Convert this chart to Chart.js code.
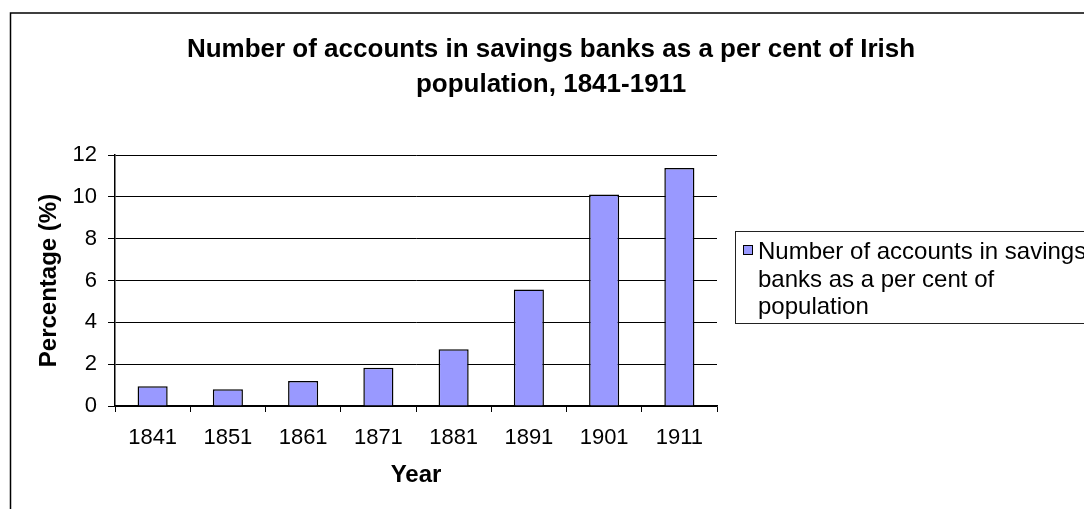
<!DOCTYPE html>
<html>
<head>
<meta charset="utf-8">
<title>Savings bank accounts</title>
<script src="https://cdn.jsdelivr.net/npm/chart.js@4/dist/chart.umd.min.js"></script>
<style>
  html, body { margin: 0; padding: 0; background: #fff; }
  #chart { display: block; }
</style>
</head>
<body>
<canvas id="chart" width="1084" height="509"></canvas>
<script>
// datos
const years = ['1841', '1851', '1861', '1871', '1881', '1891', '1901', '1911'];
const accountsPct = [0.94, 0.80, 1.19, 1.83, 2.71, 5.57, 10.11, 11.38];
const yTicks = [0, 2, 4, 6, 8, 10, 12];
const titleLines = ['Number of accounts in savings banks as a per cent of Irish', 'population, 1841-1911'];
const seriesLabel = 'Number of accounts in savings banks as a per cent of population';

const FONT = "'Liberation Sans', Arial, sans-serif";

// borde exterior, titulo y leyenda (estilo Excel)
const excelDecor = {
    id: 'excelDecor',
    beforeDraw(chart) {
        const ctx = chart.ctx;
        ctx.save();
        ctx.fillStyle = '#fff';
        ctx.fillRect(0, 0, chart.width, chart.height);
        ctx.strokeStyle = '#000';
        ctx.lineWidth = 1.5;
        ctx.strokeRect(10.5, 13, chart.width + 20, chart.height + 20);
        ctx.restore();
    },
    afterDraw(chart) {
        const ctx = chart.ctx;
        ctx.save();
        // titulo
        ctx.fillStyle = '#000';
        ctx.font = 'bold 26px ' + FONT;
        ctx.textAlign = 'center';
        ctx.textBaseline = 'alphabetic';
        ctx.fillText(titleLines[0], 551, 57);
        ctx.fillText(titleLines[1], 551, 92);

        // leyenda
        ctx.strokeStyle = '#222';
        ctx.lineWidth = 1;
        ctx.strokeRect(735.5, 231.5, 400, 92);
        const ds = chart.data.datasets[0];
        ctx.fillStyle = ds.backgroundColor;
        ctx.fillRect(743, 245, 10, 10);
        ctx.strokeStyle = '#000';
        ctx.strokeRect(743.5, 245.5, 9, 9);

        ctx.fillStyle = '#000';
        ctx.font = '24px ' + FONT;
        ctx.textAlign = 'left';
        const lines = wrapText(ctx, ds.label, 340);
        lines.forEach((line, i) => ctx.fillText(line, 758, 259 + i * 27.5));
        ctx.restore();
    }
};

function wrapText(ctx, text, maxWidth) {
    const words = text.split(' ');
    const lines = [];
    let current = '';
    words.forEach(w => {
        const test = current ? current + ' ' + w : w;
        if (ctx.measureText(test).width > maxWidth && current) {
            lines.push(current);
            current = w;
        } else {
            current = test;
        }
    });
    if (current) lines.push(current);
    return lines;
}

new Chart(document.getElementById('chart'), {
    type: 'bar',
    data: {
        labels: years,
        datasets: [{
            label: seriesLabel,
            data: accountsPct,
            backgroundColor: '#9999FF',
            borderColor: '#000',
            borderWidth: 1.5,
            barPercentage: 0.8,
            categoryPercentage: 0.5
        }]
    },
    options: {
        responsive: false,
        animation: false,
        events: [],
        layout: {
            padding: { top: 155, left: 0, right: 367, bottom: 0 }
        },
        plugins: {
            legend: { display: false },
            title: { display: false },
            tooltip: { enabled: false }
        },
        scales: {
            x: {
                afterFit: scale => { scale.height = 103; },
                grid: {
                    offset: true,
                    drawOnChartArea: false,
                    tickLength: 6,
                    color: '#000',
                    lineWidth: 1
                },
                border: { color: '#000', width: 1.5 },
                ticks: {
                    color: '#000',
                    padding: 13,
                    font: { family: FONT, size: 22 }
                },
                title: {
                    display: true,
                    text: 'Year',
                    color: '#000',
                    padding: { top: 0, bottom: 19 },
                    font: { family: FONT, size: 24, weight: 'bold' }
                }
            },
            y: {
                min: 0,
                max: 12,
                afterFit: scale => { scale.width = 115; },
                afterBuildTicks: scale => { scale.ticks = yTicks.map(v => ({ value: v })); },
                grid: {
                    color: '#000',
                    lineWidth: 1,
                    tickLength: 7
                },
                border: { color: '#000', width: 1.5 },
                ticks: {
                    color: '#000',
                    padding: 11,
                    font: { family: FONT, size: 22 }
                },
                title: {
                    display: true,
                    text: 'Percentage (%)',
                    color: '#000',
                    padding: { top: 35, bottom: 0 },
                    font: { family: FONT, size: 24, weight: 'bold' }
                }
            }
        }
    },
    plugins: [excelDecor]
});
</script>
</body>
</html>
